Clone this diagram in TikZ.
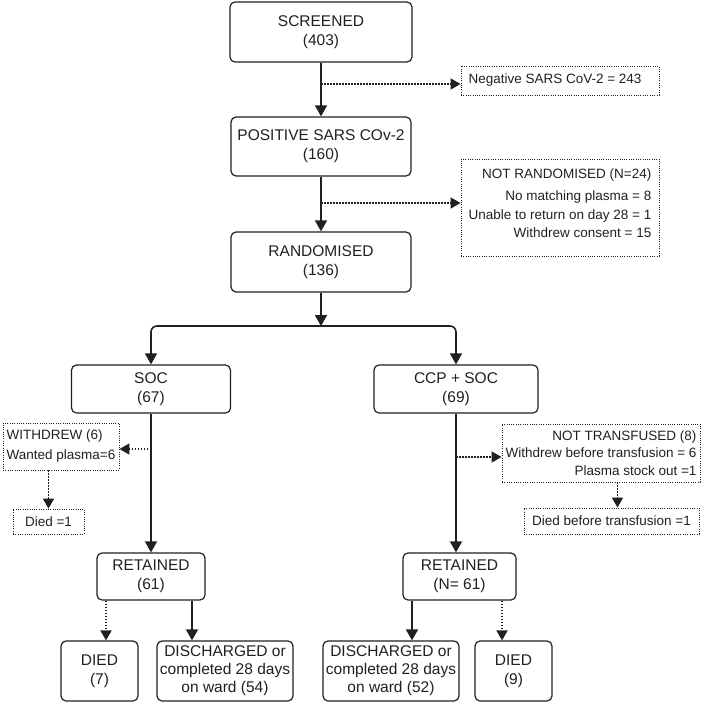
\documentclass[tikz,border=0pt]{standalone}
\usepackage{fontspec}
\setmainfont{Liberation Sans}
\usetikzlibrary{arrows.meta}
\definecolor{ink}{HTML}{231F20}
\begin{document}
\begin{tikzpicture}[x=1pt,y=-1pt,
  mainbox/.style={draw=ink, line width=1.2pt, rounded corners=5pt, align=center, inner sep=0pt, font=\fontsize{15.5}{19}\selectfont, text=ink},
  sidebox/.style={draw=ink, line width=0.9pt, dash pattern=on 1pt off 1.3pt, inner sep=0pt, align=center, font=\fontsize{13.5}{18.5}\selectfont, text=ink},
  arr/.style={draw=ink, line width=1.6pt, -{Triangle[length=11pt,width=12pt]}},
  darr/.style={draw=ink, line width=1.5pt, dash pattern=on 1.5pt off 1.5pt, -{Triangle[length=10pt,width=11pt]}},
]
\useasboundingbox (0,0) rectangle (704,704);

\node[mainbox, minimum width=182pt, minimum height=60pt] (scr) at (321,32) {SCREENED\\(403)};
\node[sidebox, minimum width=198pt, minimum height=29pt] (neg) at (560,80.5) {\hspace*{-10pt}Negative SARS CoV-2 = 243};
\node[sidebox, minimum width=198pt, minimum height=97pt, align=right] (notr) at (560,207.5) {NOT RANDOMISED (N=24)\\[4pt]No matching plasma = 8\\Unable to return on day 28 = 1\\Withdrew consent = 15\\[-10pt]\mbox{}};
\node[mainbox, minimum width=180pt, minimum height=59pt] (pos) at (321,146.5) {POSITIVE SARS COv-2\\(160)};
\node[mainbox, minimum width=180pt, minimum height=60pt] (rand) at (321,262) {RANDOMISED\\(136)};
\coordinate (fork) at (321,326);
\node[mainbox, minimum width=159pt, minimum height=48pt] (soc) at (151,389) {SOC\\(67)};
\node[mainbox, minimum width=164pt, minimum height=48pt] (ccp) at (456,389) {CCP + SOC\\(69)};
\node[sidebox, minimum width=116pt, minimum height=47pt, align=left, font=\fontsize{13.5}{20}\selectfont] (wd) at (61,446.5) {WITHDREW (6)\\Wanted plasma=6};
\node[sidebox, minimum width=71pt, minimum height=25pt] (d1) at (48.5,521.5) {Died =1};
\node[sidebox, minimum width=198pt, minimum height=58pt, align=right, font=\fontsize{13.5}{17.5}\selectfont] (nt) at (601,453) {NOT TRANSFUSED (8)\\Withdrew before transfusion = 6\\Plasma stock out =1};
\node[sidebox, minimum width=175pt, minimum height=26pt] (d2) at (611.5,521) {Died before transfusion =1};
\node[mainbox, minimum width=108pt, minimum height=47pt] (retL) at (151,576.5) {RETAINED\\(61)};
\node[mainbox, minimum width=113pt, minimum height=47pt] (retR) at (459.5,576.5) {RETAINED\\(N= 61)};
\node[mainbox, minimum width=77pt, minimum height=60pt] (diedL) at (99.5,671) {DIED\\(7)};
\node[mainbox, minimum width=136pt, minimum height=60pt, font=\fontsize{15.5}{18}\selectfont] (disL) at (225,671) {DISCHARGED or\\completed 28 days\\on ward (54)};
\node[mainbox, minimum width=136pt, minimum height=60pt, font=\fontsize{15.5}{18}\selectfont] (disR) at (391,671) {DISCHARGED or\\completed 28 days\\on ward (52)};
\node[mainbox, minimum width=77pt, minimum height=60pt] (diedR) at (513.5,671) {DIED\\(9)};

% connector anchor points
\coordinate (negin) at ([yshift=-3.5pt]neg.west);
\coordinate (notrin) at ([yshift=4.5pt]notr.west);
\coordinate (wdin) at ([yshift=-2.5pt]wd.east);
\coordinate (ntin) at ([yshift=-4pt]nt.west);
\coordinate (d2in) at ([xshift=6pt]d2.north);
\coordinate (dLin) at ([xshift=6.5pt]diedL.north);
\coordinate (sLin) at ([xshift=-33pt]disL.north);
\coordinate (sRin) at ([xshift=21pt]disR.north);
\coordinate (dRin) at ([xshift=-11.5pt]diedR.north);

% main flow
\draw[arr] (scr.south) -- (pos.north);
\draw[arr] (pos.south) -- (rand.north);
\draw[arr] (rand.south) -- (fork);
\draw[arr, rounded corners=6pt] (fork) -| (soc.north);
\draw[arr, rounded corners=6pt] (fork) -| (ccp.north);
\draw[arr] (soc.south) -- (soc.south |- retL.north);
\draw[arr] (ccp.south) -- (ccp.south |- retR.north);
\draw[arr] (sLin |- retL.south) -- (sLin);
\draw[arr] (sRin |- retR.south) -- (sRin);

% dotted side flows
\draw[darr] (scr.south |- negin) -- (negin);
\draw[darr] (pos.south |- notrin) -- (notrin);
\draw[darr] (soc.south |- wdin) -- (wdin);
\draw[darr] (d1.north |- wd.south) -- (d1.north);
\draw[darr] (ccp.south |- ntin) -- (ntin);
\draw[darr] (d2in |- nt.south) -- (d2in);
\draw[darr] (dLin |- retL.south) -- (dLin);
\draw[darr] (dRin |- retR.south) -- (dRin);
\end{tikzpicture}
\end{document}
